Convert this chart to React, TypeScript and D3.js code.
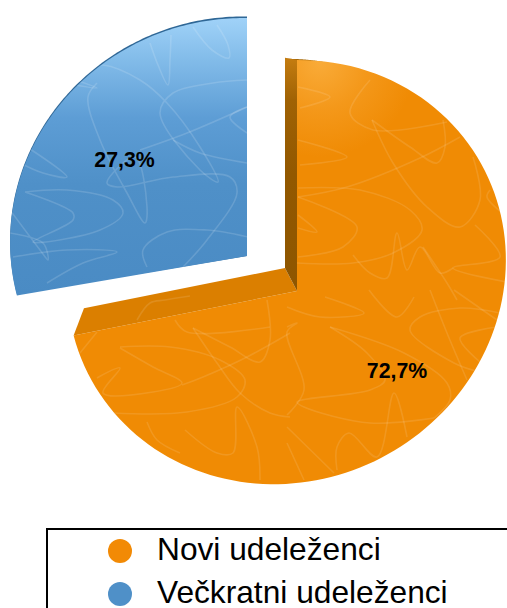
import React from "react";
import * as d3 from "d3";

const categories = ["Novi udeleženci", "Večkratni udeleženci"];
const values = [72.7, 27.3];
const labels = ["72,7%", "27,3%"];
const legendColors = ["#F28A05", "#4F90C8"];

type P = [number, number];
const blueSquiggles: P[][] = [
  [[150,43],[158,65],[168,85],[170,60],[171,35]],
  [[193,27],[212,50],[229,58],[228,45],[217,25]],
  [[97,83],[88,97],[100,140],[127,193],[145,223],[147,207],[135,157],[107,183],[117,187],[173,177],[230,177],[237,193],[207,240],[183,267]],
  [[72,70],[103,65],[140,80],[167,103],[200,147],[218,182],[200,170],[160,113],[173,93],[213,83],[247,80]],
  [[247,107],[187,133],[140,150]],
  [[247,163],[200,153],[173,140]],
  [[27,147],[67,177],[43,173],[20,163]],
  [[25,192],[67,190],[113,200],[123,213],[100,230],[33,242],[73,220],[73,213],[25,192]],
  [[10,210],[40,250],[48,260],[43,243],[10,233]],
  [[13,257],[67,250],[117,252],[83,263],[47,283]],
  [[147,267],[143,250],[167,232],[207,230],[248,237]],
  [[247,107],[230,117],[247,133]],
  [[75,85],[97,88],[75,80]],
];
const orangeSquiggles: P[][] = [
  [[298,87],[330,97],[300,108]],
  [[370,80],[350,113],[373,130],[447,122]],
  [[372,120],[393,163],[427,207],[460,227],[480,200],[473,157]],
  [[372,120],[410,147],[437,163],[445,147],[443,120]],
  [[460,137],[420,158],[347,187],[298,197]],
  [[298,188],[360,190],[410,210],[422,230],[393,253],[353,263],[297,263]],
  [[298,140],[347,157],[300,165]],
  [[298,197],[357,227],[343,247],[298,257]],
  [[298,215],[317,232],[298,228]],
  [[353,255],[370,273],[387,278],[397,233],[407,270],[420,247],[440,273],[453,268]],
  [[475,225],[500,257],[453,268],[507,282]],
  [[490,190],[487,197],[505,215]],
  [[423,247],[447,283],[457,300]],
  [[97,332],[80,353]],
  [[120,347],[170,347],[220,360],[245,380],[237,397],[187,412],[113,413]],
  [[120,348],[153,367],[182,383],[153,392],[103,393],[120,368],[97,378]],
  [[193,328],[217,363],[240,393],[270,413],[290,417]],
  [[193,328],[230,347],[260,362],[270,340],[267,300]],
  [[290,333],[247,357],[203,377],[182,385]],
  [[175,320],[187,332],[270,327]],
  [[147,422],[157,440],[180,453]],
  [[185,430],[217,453],[233,453],[237,407],[257,447],[260,480]],
  [[325,297],[364,313],[320,317],[287,307]],
  [[369,290],[397,317],[414,297]],
  [[287,327],[297,323],[287,332],[304,390],[287,415]],
  [[330,327],[367,353],[385,380],[370,390],[297,402],[304,407],[370,423],[434,418]],
  [[330,327],[404,353],[447,383],[450,400],[434,418]],
  [[500,313],[460,308],[420,317],[410,330],[454,363],[480,372]],
  [[430,290],[447,333],[467,380]],
  [[497,327],[460,338],[480,362]],
  [[454,290],[497,320]],
  [[337,470],[337,447],[349,433],[377,457],[394,393],[407,437]],
  [[287,427],[334,473]],
  [[287,443],[304,480]],
  [[137,320],[150,303],[165,300],[190,296]],
];

const squiggleLine = d3.line<P>().curve(d3.curveCatmullRom.alpha(0.5));
const arcLine = d3.line<P>();

// perspective view of a unit circle around a given apex
function project(theta: number, vx: number, vy: number, s: number, shear = 13): P {
  const u = Math.sin(theta);
  const v = Math.cos(theta);
  const w = 1 - 0.092 * v + 0.048 * u;
  return [vx + (s * 218 * u) / w, vy - (s * (209.7 * v + shear * u)) / w];
}
function boundary(a0: number, a1: number, vx: number, vy: number, s: number, shear = 13): P[] {
  const n = 120;
  return d3.range(n + 1).map((i) => project(a0 + ((a1 - a0) * i) / n, vx, vy, s, shear));
}

const pieGen = d3.pie<number>().sort(null).startAngle(0).endAngle(2 * Math.PI);
const arcs = pieGen(values);
const orange = arcs[0];
const blue = arcs[1];

const apexO: P = [297, 291];
const backO: P = [285, 268];
const apexB: P = [247, 256];

const faceO = boundary(orange.startAngle, orange.endAngle, apexO[0], apexO[1], 1);
const faceOPath = arcLine([apexO, ...faceO, apexO]) + "Z";
const faceB = boundary(blue.startAngle, blue.endAngle, apexB[0], apexB[1], 1.03, 7);
const faceBPath = arcLine([apexB, ...faceB, apexB]) + "Z";
const rimB = boundary(blue.startAngle, blue.endAngle, apexB[0], apexB[1] - 1.6, 1.03, 7);
const rimBPath = arcLine([apexB, ...rimB, apexB]) + "Z";

const topO = project(orange.startAngle, apexO[0], apexO[1], 1);
const topOBack = project(orange.startAngle, backO[0], backO[1], 0.91);
const endO = project(orange.endAngle, apexO[0], apexO[1], 1);
const endOBack = project(orange.endAngle, backO[0], backO[1], 0.9);
const wallV = arcLine([backO, topOBack, topO, apexO]) + "Z";
const wallF = arcLine([backO, endOBack, endO, apexO]) + "Z";
const rimO = arcLine([apexO, ...boundary(orange.startAngle, 0.34, backO[0] + 1, backO[1] + 1, 0.91), apexO]) + "Z";

const x = d3.scaleLinear().domain([0, 507]).range([0, 507]);
const legendY = d3.scalePoint<string>().domain(categories).range([551, 594]);

export default function App() {
  return (
    <svg width={507} height={608} style={{ position: "fixed", left: 0, top: 0, background: "#fff" }}>
      <defs>
        <linearGradient id="bl" gradientUnits="userSpaceOnUse" x1={0} y1={18} x2={0} y2={296}>
          <stop offset="0" stopColor="#a0d2f8" />
          <stop offset="0.14" stopColor="#84bdea" />
          <stop offset="0.36" stopColor="#5d9dd5" />
          <stop offset="0.6" stopColor="#4f90c8" />
          <stop offset="1" stopColor="#4a8bc4" />
        </linearGradient>
        <radialGradient id="og" gradientUnits="userSpaceOnUse" cx={320} cy={62} r={95}>
          <stop offset="0" stopColor="#f9ab38" />
          <stop offset="0.5" stopColor="#f4981a" />
          <stop offset="1" stopColor="#f08b04" />
        </radialGradient>
        <linearGradient id="wv" gradientUnits="userSpaceOnUse" x1={0} y1={58} x2={0} y2={291}>
          <stop offset="0" stopColor="#c47c10" />
          <stop offset="0.18" stopColor="#a06204" />
          <stop offset="0.5" stopColor="#925800" />
          <stop offset="1" stopColor="#8e5600" />
        </linearGradient>
        <clipPath id="co">
          <path d={faceOPath} />
          <path d={wallF} />
        </clipPath>
        <clipPath id="cb">
          <path d={faceBPath} />
        </clipPath>
      </defs>

      {/* exploded slice */}
      <path d={rimBPath} fill="#2f6796" />
      <path d={faceBPath} fill="url(#bl)" />
      <g clipPath="url(#cb)" fill="none" stroke="#fff" strokeOpacity={0.14} strokeWidth={1.6}>
        {blueSquiggles.map((s, i) => (
          <path key={i} d={squiggleLine(s) ?? ""} />
        ))}
      </g>

      {/* main slice */}
      <path d={rimO} fill="#a86a08" />
      <path d={faceOPath} fill="url(#og)" />
      <path d={wallF} fill="#db7f00" />
      <path d={wallV} fill="url(#wv)" />
      <g clipPath="url(#co)" fill="none" stroke="#fff" strokeOpacity={0.11} strokeWidth={1.6}>
        {orangeSquiggles.map((s, i) => (
          <path key={i} d={squiggleLine(s) ?? ""} />
        ))}
      </g>

      <g fontFamily="'Liberation Sans', Arial, sans-serif" fontWeight={700} fontSize={21.3} fill="#000" textAnchor="middle">
        <text x={x(397)} y={378}>{labels[0]}</text>
        <text x={x(124.5)} y={167}>{labels[1]}</text>
      </g>

      <path d="M47 608V529H507" fill="none" stroke="#000" strokeWidth={2} />
      {categories.map((c, i) => (
        <g key={c}>
          <circle cx={x(120)} cy={legendY(c)} r={12} fill={legendColors[i]} />
          <text x={x(157)} y={(legendY(c) ?? 0) + 9} fontFamily="'Liberation Sans', Arial, sans-serif" fontSize={31.7} fill="#000">
            {c}
          </text>
        </g>
      ))}
    </svg>
  );
}
